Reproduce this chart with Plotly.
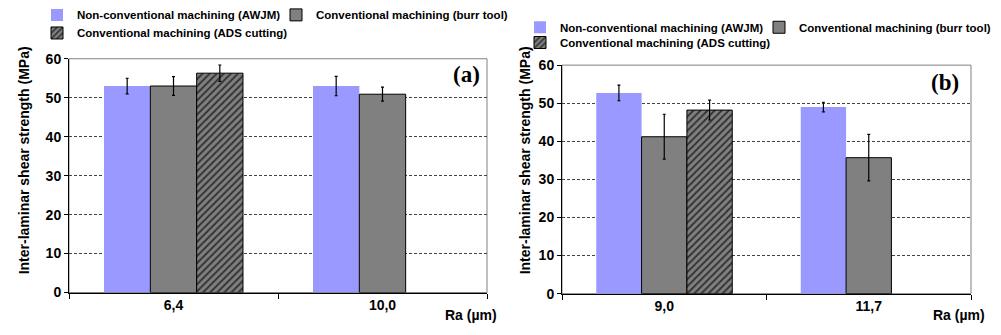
import plotly.graph_objects as go

# ---- data ----
series_names = ["Non-conventional machining (AWJM)",
                "Conventional machining (burr tool)",
                "Conventional machining (ADS cutting)"]

cats_a = ["6,4", "10,0"]
awjm_a = [53.0, 53.0]
awjm_a_err = [2.0, 2.5]
burr_a = [53.0, 50.9]
burr_a_err = [2.4, 1.8]
ads_a = [56.3, None]
ads_a_err = [2.1, None]

cats_b = ["9,0", "11,7"]
awjm_b = [52.7, 49.0]
awjm_b_err = [2.05, 1.25]
burr_b = [41.2, 35.7]
burr_b_err = [5.9, 6.1]
ads_b = [48.2, None]
ads_b_err = [2.6, None]

y_ticks = [0, 10, 20, 30, 40, 50, 60]

# ---- styles ----
FONT = "Liberation Sans"
BLUE = "#9999FF"
GRAY = "#808080"

def bar(name, x, y, err, kind, xa, ya, legend):
    marker = dict(color=BLUE, line=dict(width=0))
    if kind == 1:
        marker = dict(color=GRAY, line=dict(color="black", width=1))
    elif kind == 2:
        marker = dict(color=GRAY, line=dict(color="black", width=1),
                      pattern=dict(shape="/", fillmode="replace", bgcolor=GRAY,
                                   fgcolor="#333333", size=5, solidity=0.4))
    return go.Bar(name="<b>" + name + "</b>", x=x, y=y, marker=marker,
                  xaxis=xa, yaxis=ya, legend=legend,
                  error_y=dict(type="data", array=err, visible=True,
                               color="black", thickness=1.2, width=1.5))

fig = go.Figure()
fig.add_trace(bar(series_names[0], cats_a, awjm_a, awjm_a_err, 0, "x", "y", "legend"))
fig.add_trace(bar(series_names[1], cats_a, burr_a, burr_a_err, 1, "x", "y", "legend2"))
fig.add_trace(bar(series_names[2], cats_a, ads_a, ads_a_err, 2, "x", "y", "legend3"))
fig.add_trace(bar(series_names[0], cats_b, awjm_b, awjm_b_err, 0, "x2", "y2", "legend4"))
fig.add_trace(bar(series_names[1], cats_b, burr_b, burr_b_err, 1, "x2", "y2", "legend5"))
fig.add_trace(bar(series_names[2], cats_b, ads_b, ads_b_err, 2, "x2", "y2", "legend6"))

W, H = 1001, 335
def px(x):
    return x / W
def py(y):
    return (H - y) / H

tickfont = dict(family=FONT, size=14, color="black", weight="bold")

def xaxis(domain, anchor):
    return dict(domain=domain, anchor=anchor, type="category",
                showline=True, linecolor="black", linewidth=1,
                ticks="outside", tickson="boundaries", ticklen=5,
                tickcolor="black", tickfont=tickfont, showgrid=False,
                zeroline=False, fixedrange=True)

def yaxis(domain, anchor):
    return dict(domain=domain, anchor=anchor, range=[0, 60],
                tickvals=y_ticks, showline=True, linecolor="black",
                linewidth=1, ticks="outside", ticklen=4, tickcolor="black",
                tickfont=tickfont, showgrid=True, gridcolor="#444444",
                griddash="3px,2px", gridwidth=1, zeroline=False,
                fixedrange=True)

legfont = dict(family=FONT, size=11.5, color="black", weight="bold")

def leg(x, ytop):
    return dict(orientation="h", x=px(x), y=py(ytop), xanchor="left",
                yanchor="top", font=legfont, itemwidth=30,
                bgcolor="rgba(0,0,0,0)", tracegroupgap=0)

def ann(text, x, y, size=14, family=FONT, angle=0):
    return dict(text="<b>" + text + "</b>", textangle=angle, xref="paper",
                yref="paper", x=px(x), y=py(y), xanchor="center",
                yanchor="middle", showarrow=False,
                font=dict(family=family, size=size, color="black", weight="bold"))

fig.update_layout(
    width=W, height=H,
    margin=dict(l=0, r=0, t=0, b=0),
    paper_bgcolor="white", plot_bgcolor="white",
    barmode="group", bargap=0.335, bargroupgap=0,
    xaxis=xaxis([px(69), px(487)], "y"),
    yaxis=yaxis([py(298.8), py(53.3)], "x"),
    xaxis2=xaxis([px(562), px(971)], "y2"),
    yaxis2=yaxis([py(300), py(60)], "x2"),
    legend=leg(37, -8),
    legend2=leg(276, -8),
    legend3=leg(37, 11),
    legend4=leg(520, 5),
    legend5=leg(759, 5),
    legend6=leg(520, 21),
    showlegend=True,
    shapes=[
        dict(type="rect", xref="x domain", yref="y domain", x0=0, x1=1,
             y0=0, y1=1, line=dict(color=GRAY, width=1), layer="below"),
        dict(type="rect", xref="x2 domain", yref="y2 domain", x0=0, x1=1,
             y0=0, y1=1, line=dict(color=GRAY, width=1), layer="below"),
    ],
    annotations=[
        ann("Inter-laminar shear strength (MPa)", 24, 160, angle=-90),
        ann("Inter-laminar shear strength (MPa)", 525, 160, angle=-90),
        ann("Ra (µm)", 471, 322),
        ann("Ra (µm)", 959, 322),
        ann("(a)", 466, 70, size=23, family="Liberation Serif"),
        ann("(b)", 945, 78, size=23, family="Liberation Serif"),
    ],
)

fig.write_html("out.html")
